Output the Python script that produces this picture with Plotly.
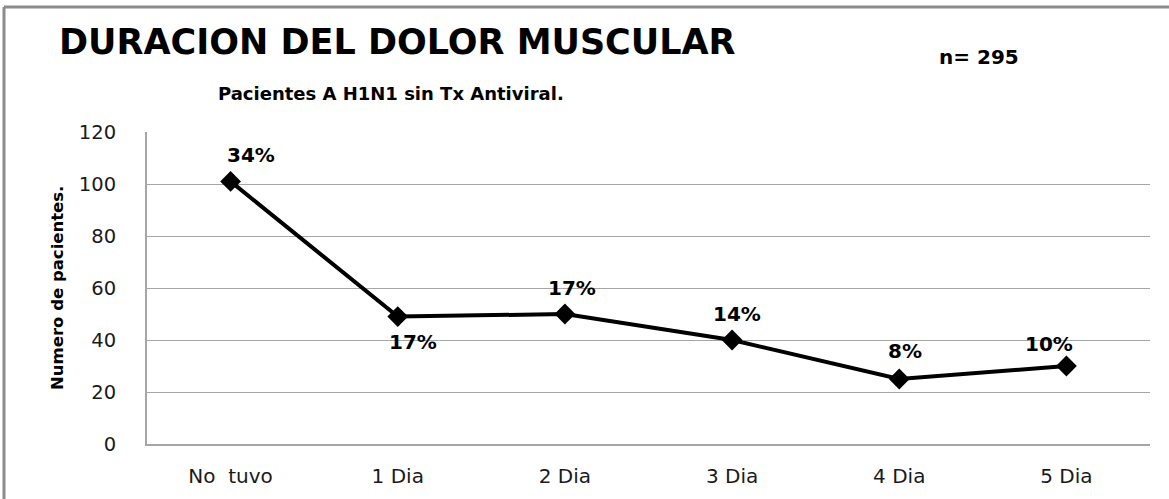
import plotly.graph_objects as go

categories = ["No  tuvo", "1 Dia", "2 Dia", "3 Dia", "4 Dia", "5 Dia"]
patients = [101, 49, 50, 40, 25, 30]
total_n = 295
y_ticks = [0, 20, 40, 60, 80, 100, 120]

percent_labels = [f"{round(v / total_n * 100)}%" for v in patients]
label_shifts = [(20, 26), (15, -25), (7, 26), (5, 26), (6, 28), (-17, 22)]

FONT = "DejaVu Sans"
L, R, T, B = 147, 19, 132, 55
PW = 1169 - L - R
PH = 499 - T - B

fig = go.Figure()
fig.add_trace(go.Scatter(
    x=categories, y=patients, mode="lines+markers",
    line=dict(color="black", width=4),
    marker=dict(symbol="diamond", size=16, color="black"),
    cliponaxis=False, showlegend=False, hoverinfo="skip",
))

for cat, val, txt, (dx, dy) in zip(categories, patients, percent_labels, label_shifts):
    fig.add_annotation(x=cat, y=val, text=f"<b>{txt}</b>", showarrow=False,
                       xshift=dx, yshift=dy,
                       font=dict(family=FONT, size=20, color="black"))


def page_text(text, px, py, size, angle=0):
    fig.add_annotation(xref="paper", yref="paper", x=0, y=1, xanchor="center", yanchor="middle",
                       xshift=px - L, yshift=T - py, text=text, showarrow=False, textangle=angle,
                       font=dict(family=FONT, size=size, color="black"))


page_text("<b>DURACION DEL DOLOR MUSCULAR</b>", 397, 42, 35)
page_text("<b>Pacientes A H1N1 sin Tx Antiviral.</b>", 391, 93, 18)
page_text(f"<b>n= {total_n}</b>", 979, 57, 20)
fig.add_annotation(xref="paper", yref="paper", x=0, y=0.5, xanchor="center", yanchor="middle",
                   xshift=57 - L, text="<b>Numero de pacientes.</b>", showarrow=False, textangle=-90,
                   font=dict(family=FONT, size=16.5, color="black"))

# outer frame (left and top edges)
fx = (4 - L) / PW
fy = (499 - B - 7) / PH
fig.add_shape(type="line", xref="paper", yref="paper", x0=fx, x1=1.05, y0=fy, y1=fy,
              line=dict(color="#8c8c8c", width=3))
fig.add_shape(type="line", xref="paper", yref="paper", x0=fx, x1=fx, y0=-0.3, y1=fy,
              line=dict(color="#8c8c8c", width=3))

fig.update_layout(
    width=1169, height=499,
    margin=dict(l=L, r=R, t=T, b=B),
    paper_bgcolor="white", plot_bgcolor="white",
    font=dict(family=FONT, color="#1a1a1a"),
    xaxis=dict(
        showgrid=False, showline=True, linecolor="#a6a6a6", linewidth=2,
        ticks="", tickfont=dict(size=20, color="#1a1a1a"), ticklabelstandoff=13,
        range=[-0.5, 5.5], fixedrange=True,
    ),
    yaxis=dict(
        range=[0, 120], tickvals=y_ticks, showgrid=True, gridcolor="#a6a6a6", gridwidth=1,
        showline=True, linecolor="#a6a6a6", linewidth=2, zeroline=False,
        ticks="", tickfont=dict(size=19.5, color="#1a1a1a"), ticklabelstandoff=25,
        fixedrange=True,
    ),
)

fig.write_html("out.html", config={"displayModeBar": False},
               post_script="document.body.style.margin='0';")
